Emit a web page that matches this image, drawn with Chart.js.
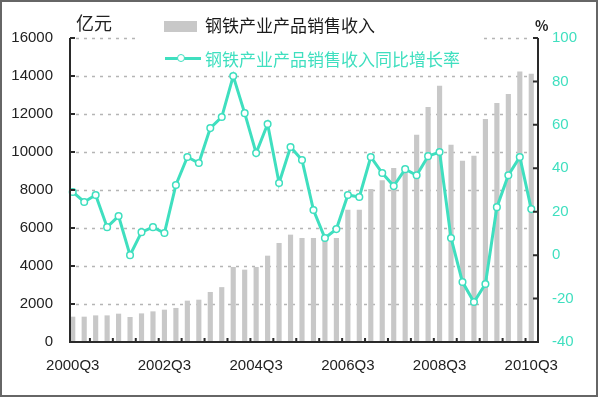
<!DOCTYPE html>
<html><head><meta charset="utf-8">
<script src="https://cdn.jsdelivr.net/npm/chart.js@4.4.0/dist/chart.umd.min.js"></script>
<style>
html,body{margin:0;padding:0;background:#fff;}
#wrap{position:relative;width:600px;height:399px;overflow:hidden;background:#fff;}
#c{position:absolute;left:0;top:0;}
.t{position:absolute;white-space:nowrap;font-family:"Noto Sans CJK SC","Noto Sans",sans-serif;line-height:20px;}
#frame{position:absolute;left:0;top:0;width:594px;height:393px;border:2px solid #666;pointer-events:none;}
#legbg{position:absolute;left:138px;top:6px;width:346px;height:60px;background:#fff;}
</style></head><body>
<div id="wrap">
<canvas id="c" width="600" height="399"></canvas>
<div id="legbg"></div>
<div class="t" style="left:76px;top:12px;font-size:18px;color:#222;">亿元</div>
<div class="t" style="left:535px;top:15px;font-size:14px;color:#222;font-weight:bold;">%</div>
<div style="position:absolute;left:164px;top:21px;width:33px;height:11px;background:#c8c8c8;"></div>
<div class="t" style="left:205px;top:15px;font-size:17px;color:#1a1a1a;">钢铁产业产品销售收入</div>
<div style="position:absolute;left:165px;top:57px;width:36px;height:3px;background:#3fdfbf;"></div>
<div style="position:absolute;left:177px;top:54px;width:6px;height:6px;border:1.5px solid #3fdfbf;border-radius:50%;background:#fff;"></div>
<div class="t" style="left:205px;top:49px;font-size:17px;color:#3fdfbf;">钢铁产业产品销售收入同比增长率</div>
<div id="frame"></div>
</div>
<script>
const categories = ['2000Q3','2000Q4','2001Q1','2001Q2','2001Q3','2001Q4','2002Q1','2002Q2','2002Q3','2002Q4',
  '2003Q1','2003Q2','2003Q3','2003Q4','2004Q1','2004Q2','2004Q3','2004Q4','2005Q1','2005Q2',
  '2005Q3','2005Q4','2006Q1','2006Q2','2006Q3','2006Q4','2007Q1','2007Q2','2007Q3','2007Q4',
  '2008Q1','2008Q2','2008Q3','2008Q4','2009Q1','2009Q2','2009Q3','2009Q4','2010Q1','2010Q2','2010Q3'];
const salesRevenue = [1316,1316,1384,1384,1474,1300,1489,1595,1684,1774,
  2158,2210,2616,2870,3932,3790,3932,4526,5195,5632,
  5458,5458,5300,5458,6947,6947,8030,8490,9142,9053,
  10895,12353,13474,10368,9526,9789,11721,12563,13037,14226,14105];
const growthRate = [29.1,24.5,27.7,12.9,18.0,0,10.6,12.9,10.2,32.3,
  45.2,42.4,58.5,63.6,82.5,65.4,47.0,60.4,33.2,49.8,
  43.8,20.8,7.9,12.0,27.7,26.8,45.2,37.8,31.8,39.6,
  36.8,45.6,47.5,7.9,-12.4,-21.6,-13.3,22.1,36.8,45.2,21.2];
const xTickLabels = ['2000Q3','2002Q3','2004Q3','2006Q3','2008Q3','2010Q3'];
const leftTicks = [0,2000,4000,6000,8000,10000,12000,14000,16000];
const rightTicks = [-40,-20,0,20,40,60,80,100];

const TEAL = '#3fdfbf';
const numFont = {family:"'Liberation Sans',Arial,sans-serif", size:15};

const axisFrame = {
  id:'axisFrame',
  beforeDatasetsDraw(chart){
    const {ctx, chartArea:a, scales:{y}} = chart;
    const L = a.left+3, R = a.right+1;
    ctx.save();
    ctx.strokeStyle = '#b5b5b5'; ctx.lineWidth = 1.5; ctx.setLineDash([3,5]);
    leftTicks.forEach(v=>{ if(v===0) return; const p = Math.round(y.getPixelForValue(v))+0.5;
      ctx.beginPath(); ctx.moveTo(L+6,p); ctx.lineTo(R-6,p); ctx.stroke(); });
    ctx.restore();
  },
  afterDatasetsDraw(chart){
    const {ctx, chartArea:a, scales:{x,y,y1}} = chart;
    const L = a.left+3, R = a.right+1;
    const T = y.getPixelForValue(16000), B = y.getPixelForValue(0);
    ctx.save();
    ctx.strokeStyle = '#2a2a2a'; ctx.lineWidth = 2;
    ctx.beginPath(); ctx.moveTo(L,T); ctx.lineTo(L,B); ctx.lineTo(R,B); ctx.lineTo(R,T); ctx.stroke();
    ctx.beginPath();
    leftTicks.forEach(v=>{ const p = y.getPixelForValue(v); ctx.moveTo(L,p); ctx.lineTo(L+5,p); });
    rightTicks.forEach(v=>{ const p = y1.getPixelForValue(v); ctx.moveTo(R,p); ctx.lineTo(R-5,p); });
    for(let i=1;i<categories.length-1;i+=2){
      const p = (x.getPixelForValue(i)+x.getPixelForValue(i+1))/2;
      ctx.moveTo(p,B); ctx.lineTo(p,B-4);
    }
    ctx.stroke();
    ctx.restore();
  }
};

new Chart(document.getElementById('c'), {
  data:{
    labels: categories,
    datasets:[
      {type:'line', label:'钢铁产业产品销售收入同比增长率', data: growthRate, yAxisID:'y1', order:0,
       borderColor:TEAL, borderWidth:3, tension:0, pointRadius:3.3, pointBorderWidth:1.5,
       pointBackgroundColor:'#fff', pointBorderColor:TEAL},
      {type:'bar', label:'钢铁产业产品销售收入', data: salesRevenue, yAxisID:'y', order:1,
       backgroundColor:'#c8c8c8', barThickness:4.5}
    ]
  },
  options:{
    responsive:false, animation:false, devicePixelRatio:1,
    layout:{padding:{left:5, right:3, top:38, bottom:0}},
    plugins:{legend:{display:false}, tooltip:{enabled:false}},
    scales:{
      x:{offset:true, grid:{display:false, drawTicks:false}, border:{display:false},
         afterFit(s){ s.height = 57; },
         ticks:{autoSkip:false, maxRotation:0, padding:15, color:'#222', font:numFont,
           callback(v,i){ const l = categories[i]; return xTickLabels.includes(l) ? l : ''; }}},
      y:{position:'left', min:0, max:16000, grid:{display:false, drawTicks:false}, border:{display:false},
         afterFit(s){ s.width = 62; },
         afterBuildTicks(s){ s.ticks = leftTicks.map(v=>({value:v})); },
         ticks:{padding:14, color:'#222', font:numFont, callback:v=>String(v)}},
      y1:{position:'right', min:-40, max:100, grid:{display:false, drawTicks:false}, border:{display:false},
         afterFit(s){ s.width = 60; },
         afterBuildTicks(s){ s.ticks = rightTicks.map(v=>({value:v})); },
         ticks:{padding:15, color:TEAL, font:numFont, callback:v=>String(v)}}
    }
  },
  plugins:[axisFrame]
});
</script>
</body></html>
